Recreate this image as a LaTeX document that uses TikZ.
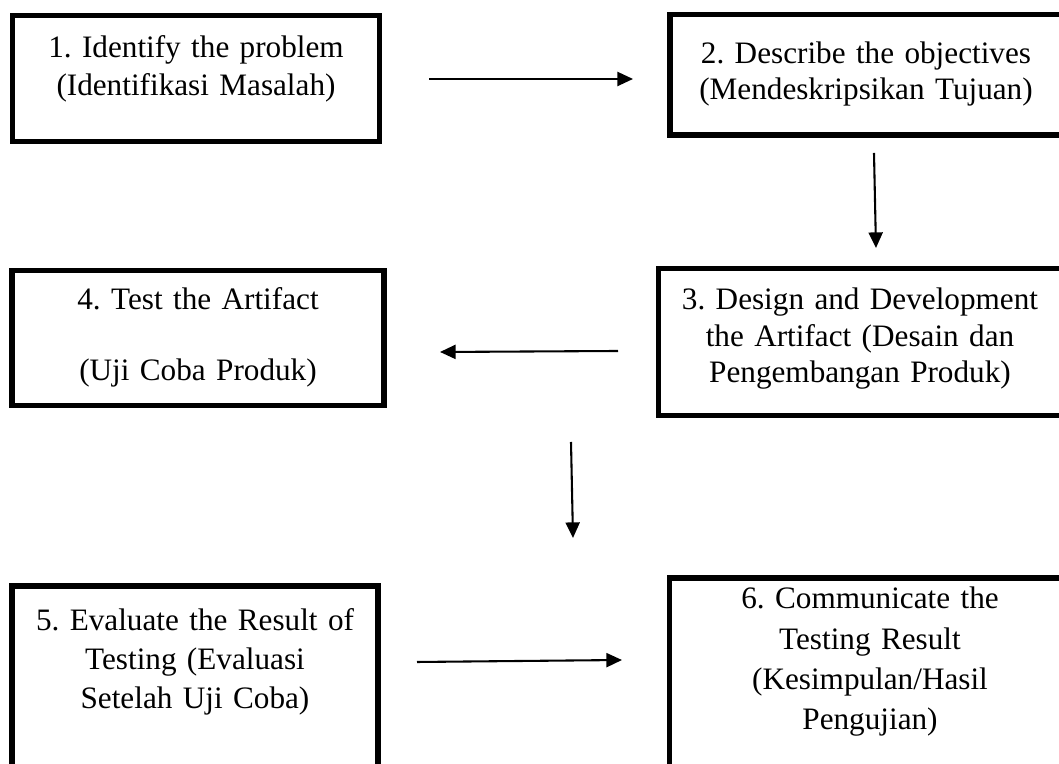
\documentclass[tikz,border=0pt]{standalone}
\usepackage{fontspec}
\setmainfont{Liberation Serif}
\frenchspacing
\usetikzlibrary{arrows.meta}
\tikzstyle{stage}=[draw,line width=2.1pt,inner sep=0pt,outer sep=0pt,align=center,anchor=base,font=\fontsize{12pt}{14.6pt}\selectfont]
\tikzstyle{flow}=[draw,line width=0.8pt,-{Triangle[length=6pt,width=5.4pt]}]

\begin{document}
\begin{tikzpicture}[x=0.3846pt,y=-0.3846pt]
    \useasboundingbox (0,0) rectangle (1059,764);
    % the six steps
    \node[stage,text width=141.2pt,text height=16.4pt,text depth=32.1pt] (identify) at (196,58) {1. Identify the problem\\(Identifikasi Masalah)};
    \node[stage,font=\fontsize{12pt}{13.6pt}\selectfont,text width=150.6pt,text height=19pt,text depth=27.3pt] (describe) at (866,64) {2. Describe the objectives\\(Mendeskripsikan Tujuan)};
    \node[stage,font=\fontsize{12pt}{14pt}\selectfont,text width=155.2pt,text height=16pt,text depth=40.6pt] (design) at (860,310) {3. Design and Development\\the Artifact (Desain dan\\Pengembangan Produk)};
    \node[stage,text width=142.9pt,text height=15.2pt,text depth=36.7pt] (test) at (198,310) {4. Test the Artifact\\[12.7pt](Uji Coba Produk)};
    \node[stage,font=\fontsize{12pt}{15pt}\selectfont,text width=140.6pt,text height=17.3pt,text depth=54.2pt] (evaluate) at (195,631) {5. Evaluate the Result of\\Testing (Evaluasi\\Setelah Uji Coba)};
    \node[stage,font=\fontsize{12pt}{15.4pt}\selectfont,text width=154.4pt,text height=11.9pt,text depth=62.7pt] (communicate) at (870,609) {6. Communicate the\\Testing Result\\(Kesimpulan/Hasil\\Pengujian)};
    % free ends of the arrows
    \coordinate (a12s) at (429,79);
    \coordinate (a12e) at (633,79);
    \coordinate (a23s) at (874,153);
    \coordinate (a23e) at (876,248);
    \coordinate (a34s) at (618,351);
    \coordinate (a34e) at (440,352);
    \coordinate (a45s) at (571,442);
    \coordinate (a45e) at (573,538);
    \coordinate (a56s) at (417,662);
    \coordinate (a56e) at (622,660);
    \path[flow] (a12s) -- (a12e);
    \path[flow] (a23s) -- (a23e);
    \path[flow] (a34s) -- (a34e);
    \path[flow] (a45s) -- (a45e);
    \path[flow] (a56s) -- (a56e);
\end{tikzpicture}
\end{document}
